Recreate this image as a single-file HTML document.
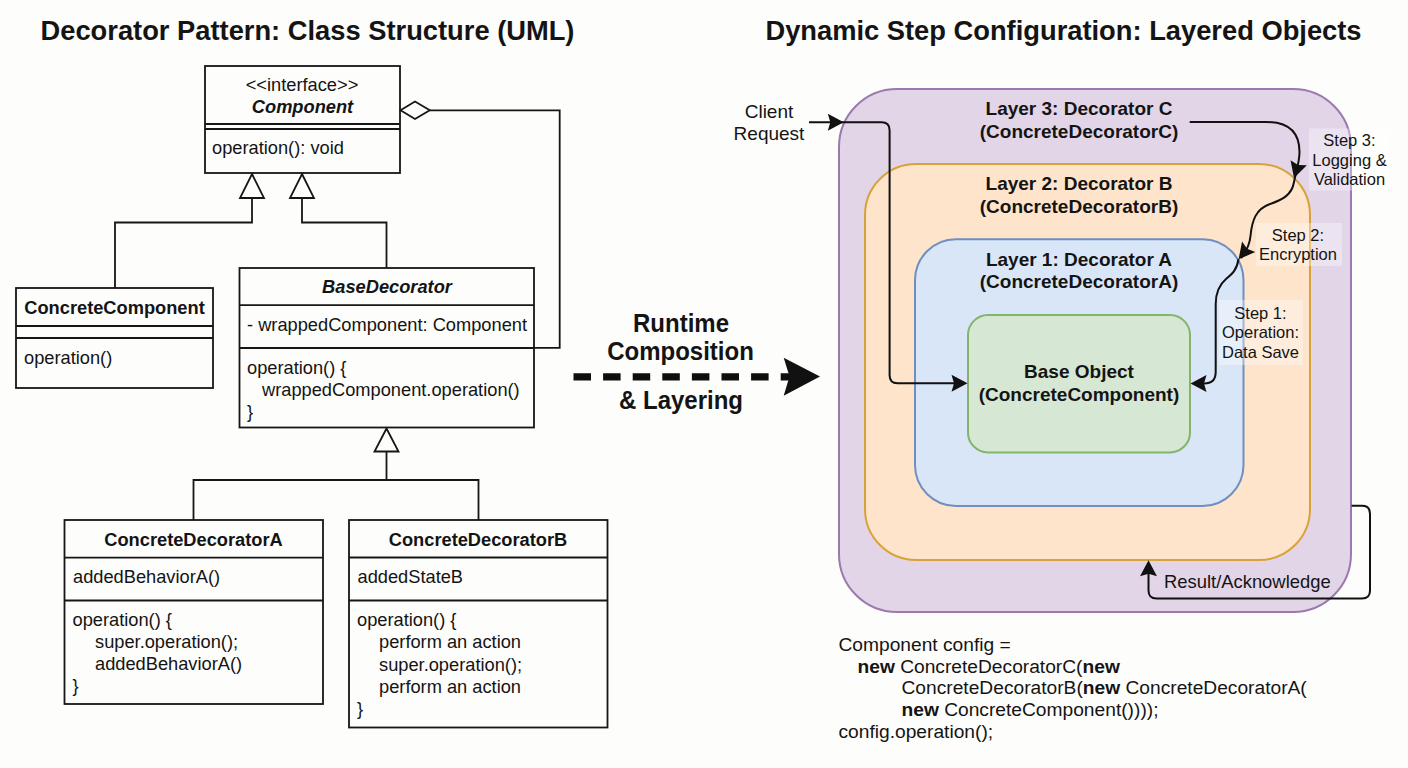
<!DOCTYPE html>
<html>
<head>
<meta charset="utf-8">
<style>
html,body{margin:0;padding:0;background:#fdfdfb;}
body{width:1408px;height:768px;overflow:hidden;}
svg{display:block;}
text{font-family:"Liberation Sans",sans-serif;fill:#141414;}
.b{font-weight:bold;}
.bi{font-weight:bold;font-style:italic;}
.u{font-size:18.25px;}
.box{fill:none;stroke:#161616;stroke-width:1.8;}
.ln{fill:none;stroke:#161616;stroke-width:1.8;}
.ar{fill:none;stroke:#111;stroke-width:2;}
.hd{fill:#111;}
.c{text-anchor:middle;}
.st{font-size:16.5px;}
.lay{font-size:19px;font-weight:bold;}
.code{font-size:19.2px;}
</style>
</head>
<body>
<svg width="1408" height="768" viewBox="0 0 1408 768">
<defs>
  <path id="ah" d="M0,0 L-16,-8.5 L-13.5,0 L-16,8.5 Z"/>
</defs>

<!-- Titles -->
<text class="b c" x="307.5" y="39.8" font-size="27.3">Decorator Pattern: Class Structure (UML)</text>
<text class="b c" x="1063.5" y="39.8" font-size="27.3">Dynamic Step Configuration: Layered Objects</text>

<!-- ===== UML ===== -->
<!-- Component -->
<rect class="box" x="205" y="66" width="195" height="107"/>
<line class="ln" x1="205" y1="124" x2="400" y2="124"/>
<line class="ln" x1="205" y1="129" x2="400" y2="129"/>
<text class="u c" x="302" y="91.4">&lt;&lt;interface&gt;&gt;</text>
<text class="u bi c" x="302.5" y="113.2">Component</text>
<text class="u" x="212" y="154.4">operation(): void</text>

<!-- aggregation -->
<path class="ln" d="M400.5,110.3 L415,101.5 L429.8,110.3 L415,119 Z" style="fill:#fdfdfb"/>
<path class="ln" d="M429.8,110.3 H559.7 V347.8 H534"/>

<!-- generalization arrows -->
<path class="ln" d="M252,198 V222.5 H115 V288"/>
<path class="ln" d="M302,198 V222.5 H386.5 V268"/>
<path class="ln" d="M252,174 L264,198 L240,198 Z"/>
<path class="ln" d="M302,174 L314,198 L290,198 Z"/>
<path class="ln" d="M386.5,428.5 L398.5,451.5 L374.5,451.5 Z"/>
<path class="ln" d="M386.5,451.5 V480"/>
<path class="ln" d="M193.5,520 V480 H478.5 V520"/>

<!-- ConcreteComponent -->
<rect class="box" x="16" y="288" width="197" height="100"/>
<line class="ln" x1="16" y1="326" x2="213" y2="326"/>
<line class="ln" x1="16" y1="338" x2="213" y2="338"/>
<text class="u b c" x="114.5" y="314.4">ConcreteComponent</text>
<text class="u" x="24" y="363.6">operation()</text>

<!-- BaseDecorator -->
<rect class="box" x="239.5" y="268" width="294.5" height="159.5"/>
<line class="ln" x1="239.5" y1="305.2" x2="534" y2="305.2"/>
<line class="ln" x1="239.5" y1="348" x2="534" y2="348"/>
<text class="u bi c" x="387" y="293">BaseDecorator</text>
<text class="u" x="247" y="331.2">- wrappedComponent: Component</text>
<text class="u" x="247" y="373.5">operation() {</text>
<text class="u" x="262" y="395.7">wrappedComponent.operation()</text>
<text class="u" x="247" y="418.2">}</text>

<!-- ConcreteDecoratorA -->
<rect class="box" x="64.5" y="520" width="258.5" height="184"/>
<line class="ln" x1="64.5" y1="557.6" x2="323" y2="557.6"/>
<line class="ln" x1="64.5" y1="600.5" x2="323" y2="600.5"/>
<text class="u b c" x="193.5" y="545.8">ConcreteDecoratorA</text>
<text class="u" x="73" y="582.9">addedBehaviorA()</text>
<text class="u" x="72.5" y="626.4">operation() {</text>
<text class="u" x="95" y="648.1">super.operation();</text>
<text class="u" x="95" y="670.1">addedBehaviorA()</text>
<text class="u" x="72.5" y="692.4">}</text>

<!-- ConcreteDecoratorB -->
<rect class="box" x="349" y="520" width="258.5" height="207.5"/>
<line class="ln" x1="349" y1="557.5" x2="607.5" y2="557.5"/>
<line class="ln" x1="349" y1="600.5" x2="607.5" y2="600.5"/>
<text class="u b c" x="478" y="545.8">ConcreteDecoratorB</text>
<text class="u" x="357.5" y="583">addedStateB</text>
<text class="u" x="357" y="626.4">operation() {</text>
<text class="u" x="379" y="648.3">perform an action</text>
<text class="u" x="379" y="670.6">super.operation();</text>
<text class="u" x="379" y="692.5">perform an action</text>
<text class="u" x="357" y="715">}</text>

<!-- ===== Middle arrow ===== -->
<text class="b c" x="0" y="0" font-size="24" transform="translate(681,331.5) scale(1,1.05)">Runtime</text>
<text class="b c" x="0" y="0" font-size="24" transform="translate(680.5,360) scale(1,1.05)">Composition</text>
<text class="b c" x="0" y="0" font-size="24" transform="translate(681,408.6) scale(1,1.05)">&amp; Layering</text>
<line x1="573.5" y1="376.8" x2="790" y2="376.8" stroke="#0e0e0e" stroke-width="7.3" stroke-dasharray="17.5 12.1"/>
<path class="hd" d="M820,376.5 L783.7,357.7 L789.5,376.5 L783.7,395.8 Z"/>

<!-- ===== Layers ===== -->
<rect x="839" y="89" width="512" height="523" rx="58" ry="58" fill="#e2d5e8" stroke="#9b78ae" stroke-width="2"/>
<rect x="865" y="164" width="445" height="396" rx="51" ry="51" fill="#fde4cb" stroke="#d8a23a" stroke-width="2"/>
<rect x="915" y="239.3" width="328.5" height="266.7" rx="41" ry="41" fill="#d9e6f8" stroke="#6e8fc0" stroke-width="2"/>
<rect x="968" y="315" width="222" height="137.4" rx="20" ry="20" fill="#d6e8d3" stroke="#84b46a" stroke-width="2"/>

<text class="lay c" x="1079" y="115.4">Layer 3: Decorator C</text>
<text class="lay c" x="1079" y="137.9">(ConcreteDecoratorC)</text>
<text class="lay c" x="1079" y="189.8">Layer 2: Decorator B</text>
<text class="lay c" x="1079" y="213">(ConcreteDecoratorB)</text>
<text class="lay c" x="1079" y="265.8">Layer 1: Decorator A</text>
<text class="lay c" x="1079" y="288.3">(ConcreteDecoratorA)</text>
<text class="lay c" x="1079" y="377.5">Base Object</text>
<text class="lay c" x="1079" y="400.5">(ConcreteComponent)</text>

<!-- step label backgrounds -->
<rect x="1309" y="128.5" width="80" height="62" fill="#ffffff" fill-opacity="0.35"/>
<rect x="1256" y="223" width="86" height="43" fill="#ffffff" fill-opacity="0.35"/>
<rect x="1219" y="300" width="84" height="65" fill="#ffffff" fill-opacity="0.35"/>

<text class="st c" x="1349.5" y="145.5">Step 3:</text>
<text class="st c" x="1349.5" y="165.6">Logging &amp;</text>
<text class="st c" x="1349.5" y="185">Validation</text>
<text class="st c" x="1298" y="240.5">Step 2:</text>
<text class="st c" x="1298" y="259.7">Encryption</text>
<text class="st c" x="1260.5" y="319">Step 1:</text>
<text class="st c" x="1260.5" y="338.4">Operation:</text>
<text class="st c" x="1260.5" y="357.6">Data Save</text>

<!-- Client request -->
<text class="c" x="769" y="117.8" font-size="19">Client</text>
<text class="c" x="769" y="140.2" font-size="19">Request</text>
<path class="ar" d="M809,122.3 H881.6 Q889.6,122.3 889.6,130.3 V375.3 Q889.6,383.3 897.6,383.3 H955"/>
<use href="#ah" class="hd" transform="translate(843.8,122.3)"/>
<use href="#ah" class="hd" transform="translate(967.5,383.3)"/>

<!-- C -> B -> A -> base -->
<path class="ar" d="M1189.7,122 H1266 C1290,122 1299.5,134 1299.5,152 C1299.5,162 1296,172 1294,182 C1292,195 1282,200 1270,204 C1256,209 1252,220 1250.5,236 C1249.5,246 1246,252 1241,258"/>
<use href="#ah" class="hd" transform="translate(1294,178) rotate(107)"/>
<use href="#ah" class="hd" transform="translate(1238.6,259.2) rotate(129)"/>
<path class="ar" d="M1238.5,259 C1237,270 1232,274 1226,279 C1219,285 1215.7,292 1215.7,304 V372 Q1215.7,383.5 1204,383.5 H1200"/>
<use href="#ah" class="hd" transform="translate(1190.5,383.5) rotate(180)"/>

<!-- Result -->
<path class="ar" d="M1351.6,505.7 H1362 Q1370,505.7 1370,513.7 V590.6 Q1370,598.6 1362,598.6 H1156.5 Q1148.5,598.6 1148.5,590.6 V572"/>
<use href="#ah" class="hd" transform="translate(1148.5,560.2) rotate(-90)"/>
<text x="1164" y="587.5" font-size="18.4">Result/Acknowledge</text>

<!-- Code -->
<text class="code" x="838.5" y="651">Component config =</text>
<text class="code" x="857.5" y="672.8"><tspan class="b">new</tspan> ConcreteDecoratorC(<tspan class="b">new</tspan></text>
<text class="code" x="901.5" y="694.2">ConcreteDecoratorB(<tspan class="b">new</tspan> ConcreteDecoratorA(</text>
<text class="code" x="901.5" y="716.1"><tspan class="b">new</tspan> ConcreteComponent())));</text>
<text class="code" x="838.5" y="738">config.operation();</text>
</svg>
</body>
</html>
